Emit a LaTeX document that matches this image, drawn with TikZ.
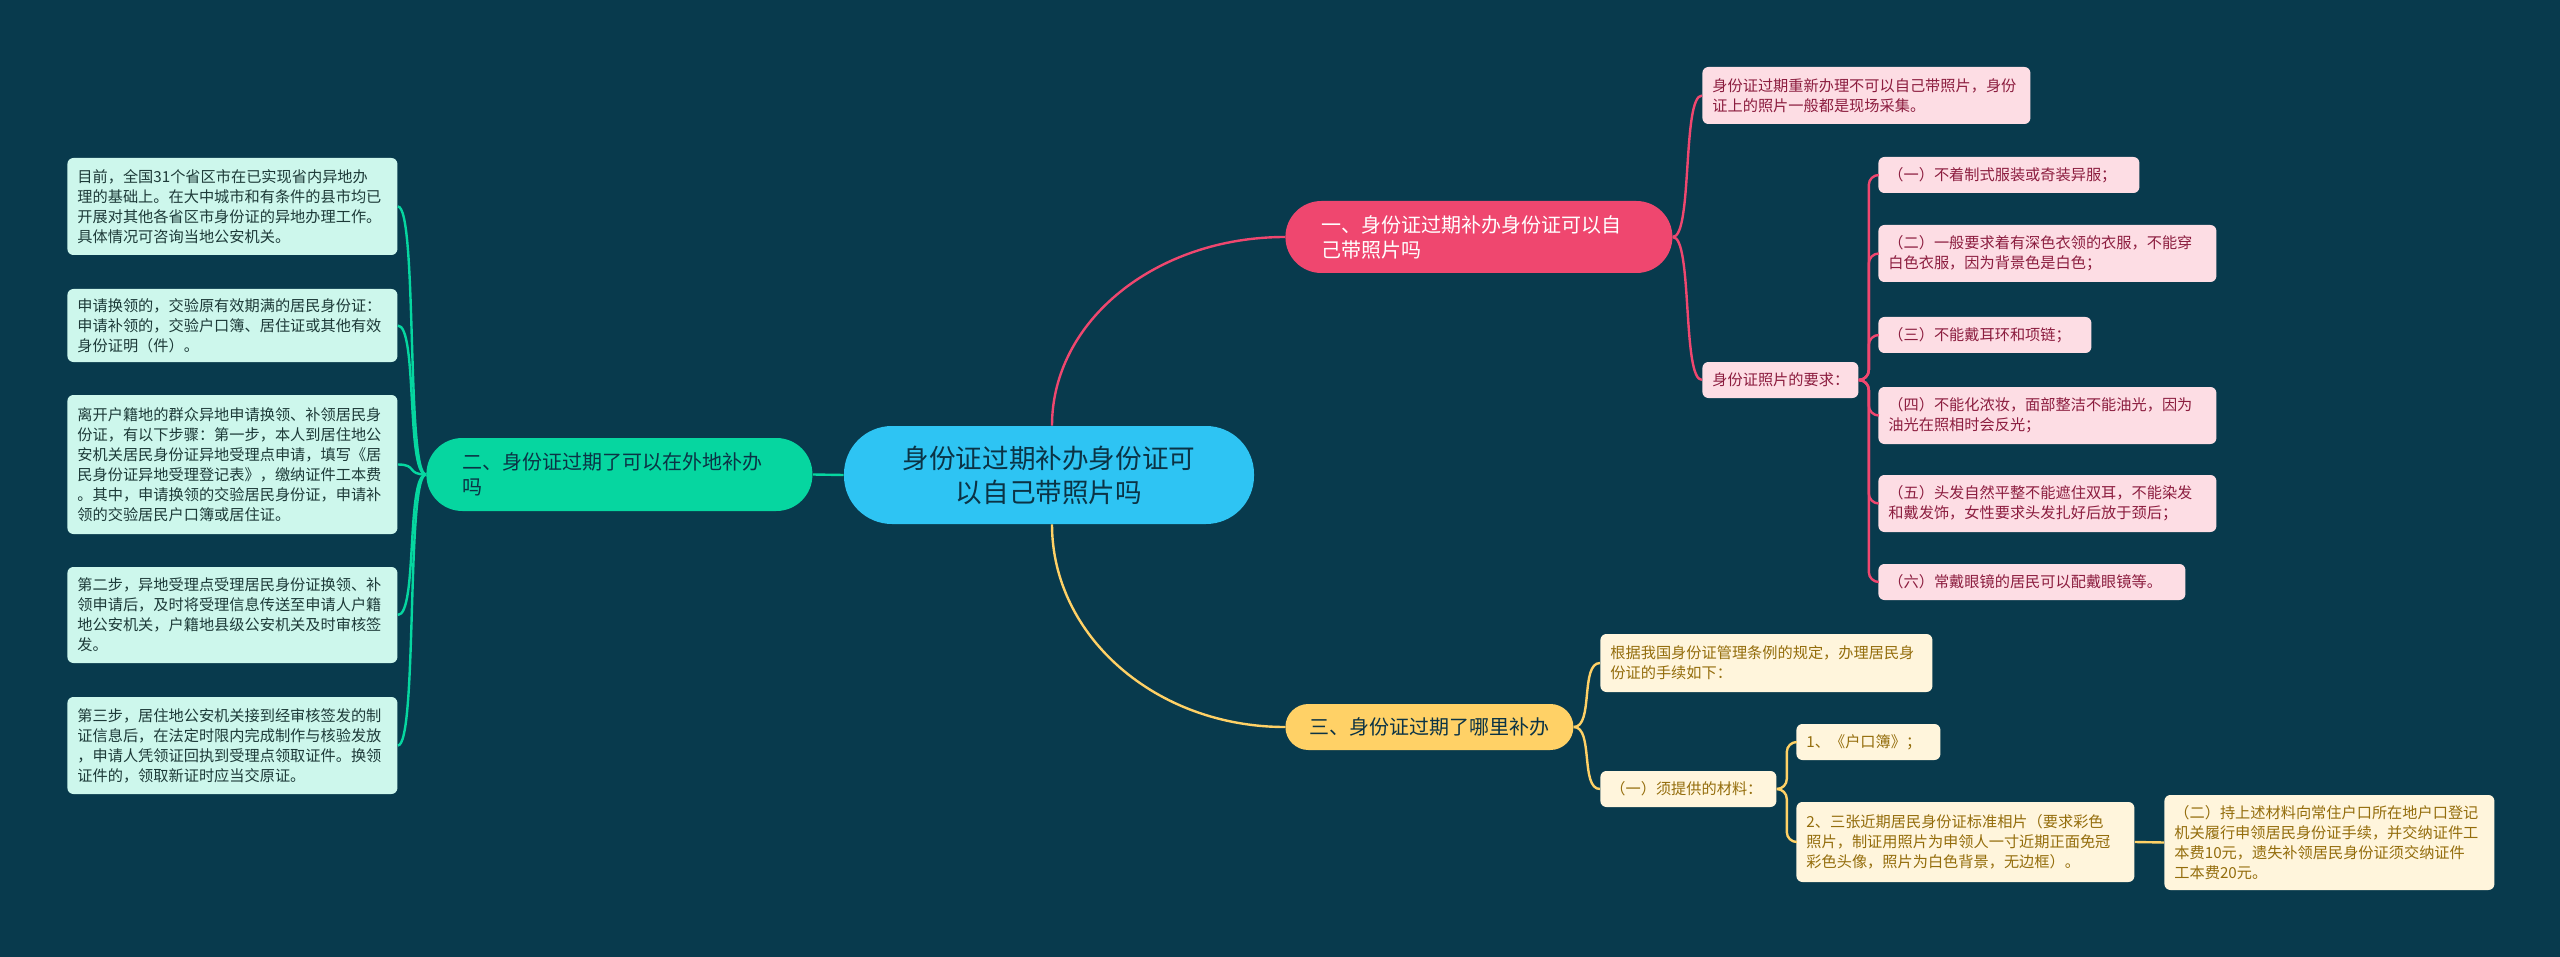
\documentclass[tikz,border=0pt]{standalone}
\usepackage{fontspec}
\setmainfont{Noto Sans CJK SC}
\usetikzlibrary{calc}
\definecolor{bg}{HTML}{083A4D}
\definecolor{cBlue}{HTML}{2EC4F3}
\definecolor{cGreen}{HTML}{06D6A0}
\definecolor{cPink}{HTML}{EF476F}
\definecolor{cYellow}{HTML}{FFD166}
\definecolor{mintF}{HTML}{CDF7EC}
\definecolor{mintT}{HTML}{1D3A38}
\definecolor{pinkF}{HTML}{FDDDE4}
\definecolor{pinkT}{HTML}{8C1D3F}
\definecolor{yelF}{HTML}{FFF5DC}
\definecolor{yelT}{HTML}{946D0C}
\definecolor{darkT}{HTML}{0B3345}
\tikzset{
  leaf/.style={rounded corners=3pt, inner xsep=5pt, inner ysep=0pt, align=left, anchor=west,
    font=\fontsize{7.6}{10}\selectfont},
  mint/.style={leaf, fill=mintF, text=mintT},
  pinkleaf/.style={leaf, fill=pinkF, text=pinkT},
  yelleaf/.style={leaf, fill=yelF, text=yelT},
  branch/.style={inner xsep=18pt, inner ysep=0pt, align=left, anchor=west,
    font=\fontsize{10}{12.5}\selectfont, rounded corners=18pt},
  gline/.style={draw=cGreen, line width=1.2pt},
  pline/.style={draw=cPink, line width=1.2pt},
  yline/.style={draw=cYellow, line width=1.2pt},
}
\begin{document}
\begin{tikzpicture}[x=0.5pt,y=-0.5pt]
\fill[bg] (0,0) rectangle (2560,957);
\useasboundingbox (0,0) rectangle (2560,957);

% central
\node[fill=cBlue, text=darkT, rounded corners=24pt, minimum width=205pt, minimum height=49pt,
  align=center, inner sep=0pt, font=\fontsize{13.3}{17}\selectfont] (C) at (1049,475)
  {身份证过期补办身份证可\\以自己带照片吗};

% branch 二
\node[branch, fill=cGreen, text=darkT, text width=157pt, minimum height=36.5pt] (B2) at (426,474.5)
  {二、身份证过期了可以在外地补办\\吗};
% branch 一
\node[branch, fill=cPink, text=white, text width=157.5pt, minimum height=36pt] (B1) at (1285,237)
  {一、身份证过期补办身份证可以自\\己带照片吗};
% branch 三
\node[branch, fill=cYellow, text=darkT, align=center, inner xsep=0pt, minimum width=144pt,
  minimum height=23pt, rounded corners=11.5pt] (B3) at (1285,727)
  {三、身份证过期了哪里补办};

% left leaves
\node[mint, text width=155pt, minimum height=48.5pt] (L1) at (67,206.5)
  {目前，全国31个省区市在已实现省内异地办\\理的基础上。在大中城市和有条件的县市均已\\开展对其他各省区市身份证的异地办理工作。\\具体情况可咨询当地公安机关。};
\node[mint, text width=155pt, minimum height=36.5pt] (L2) at (67,325.5)
  {申请换领的，交验原有效期满的居民身份证：\\申请补领的，交验户口簿、居住证或其他有效\\身份证明（件）。};
\node[mint, text width=155pt, minimum height=69.5pt] (L3) at (67,464.5)
  {离开户籍地的群众异地申请换领、补领居民身\\份证，有以下步骤：第一步，本人到居住地公\\安机关居民身份证异地受理点申请，填写《居\\民身份证异地受理登记表》，缴纳证件工本费\\。其中，申请换领的交验居民身份证，申请补\\领的交验居民户口簿或居住证。};
\node[mint, text width=155pt, minimum height=48pt] (L4) at (67,615)
  {第二步，异地受理点受理居民身份证换领、补\\领申请后，及时将受理信息传送至申请人户籍\\地公安机关，户籍地县级公安机关及时审核签\\发。};
\node[mint, text width=155pt, minimum height=48.5pt] (L5) at (67,745.5)
  {第三步，居住地公安机关接到经审核签发的制\\证信息后，在法定时限内完成制作与核验发放\\，申请人凭领证回执到受理点领取证件。换领\\证件的，领取新证时应当交原证。};

% pink leaves
\node[pinkleaf, text width=154pt, minimum height=28.5pt] (P0) at (1702,95.5)
  {身份证过期重新办理不可以自己带照片，身份\\证上的照片一般都是现场采集。};
\node[pinkleaf, text width=68pt, minimum height=18pt] (P1) at (1702,380)
  {身份证照片的要求：};
\node[pinkleaf, text width=120.5pt, minimum height=18pt] (Q1) at (1878,175)
  {（一）不着制式服装或奇装异服；};
\node[pinkleaf, text width=159pt, minimum height=28.5pt] (Q2) at (1878,253.5)
  {（二）一般要求着有深色衣领的衣服，不能穿\\白色衣服，因为背景色是白色；};
\node[pinkleaf, text width=96.5pt, minimum height=18pt] (Q3) at (1878,335)
  {（三）不能戴耳环和项链；};
\node[pinkleaf, text width=159pt, minimum height=28.5pt] (Q4) at (1878,415.5)
  {（四）不能化浓妆，面部整洁不能油光，因为\\油光在照相时会反光；};
\node[pinkleaf, text width=159pt, minimum height=28.5pt] (Q5) at (1878,503.5)
  {（五）头发自然平整不能遮住双耳，不能染发\\和戴发饰，女性要求头发扎好后放于颈后；};
\node[pinkleaf, text width=143.5pt, minimum height=18pt] (Q6) at (1878,582)
  {（六）常戴眼镜的居民可以配戴眼镜等。};

% yellow leaves
\node[yelleaf, text width=156pt, minimum height=29pt] (Y0) at (1600,663)
  {根据我国身份证管理条例的规定，办理居民身\\份证的手续如下：};
\node[yelleaf, text width=78pt, minimum height=18pt] (Y1) at (1600,789)
  {（一）须提供的材料：};
\node[yelleaf, text width=62pt, minimum height=18pt] (Y2) at (1796,742)
  {1、《户口簿》；};
\node[yelleaf, text width=159pt, minimum height=40pt] (Y3) at (1796,842)
  {2、三张近期居民身份证标准相片（要求彩色\\照片，制证用照片为申领人一寸近期正面免冠\\彩色头像，照片为白色背景，无边框）。};
\node[yelleaf, text width=155pt, minimum height=47.5pt] (Y4) at (2164,842.5)
  {（二）持上述材料向常住户口所在地户口登记\\机关履行申领居民身份证手续，并交纳证件工\\本费10元，遗失补领居民身份证须交纳证件\\工本费20元。};

% connectors
\draw[gline] (C.west) -- (B2.east);
\foreach \n in {L1,L2,L3,L4,L5}
  \draw[gline] (B2.west) .. controls +(-20,0) and +(20,0) .. (\n.east);

\draw[pline] ([xshift=1.5pt]C.north) .. controls +(0,-105) and +(-129,0) .. (B1.west);
\draw[yline] ([xshift=1.5pt]C.south) .. controls +(0,112) and +(-129,0) .. (B3.west);

\foreach \n in {P0,P1}
  \draw[pline] (B1.east) .. controls +(20,0) and +(-20,0) .. (\n.west);
\foreach \n in {Q1,Q2,Q3,Q4,Q5,Q6}
  \draw[pline, rounded corners=5pt] (P1.east) -- ++(10,0) |- (\n.west);

\foreach \n in {Y0,Y1}
  \draw[yline] (B3.east) .. controls +(20,0) and +(-20,0) .. (\n.west);
\foreach \n in {Y2,Y3}
  \draw[yline, rounded corners=5pt] (Y1.east) -- ++(10,0) |- (\n.west);
\draw[yline] (Y3.east) -- (Y4.west);
\end{tikzpicture}
\end{document}
